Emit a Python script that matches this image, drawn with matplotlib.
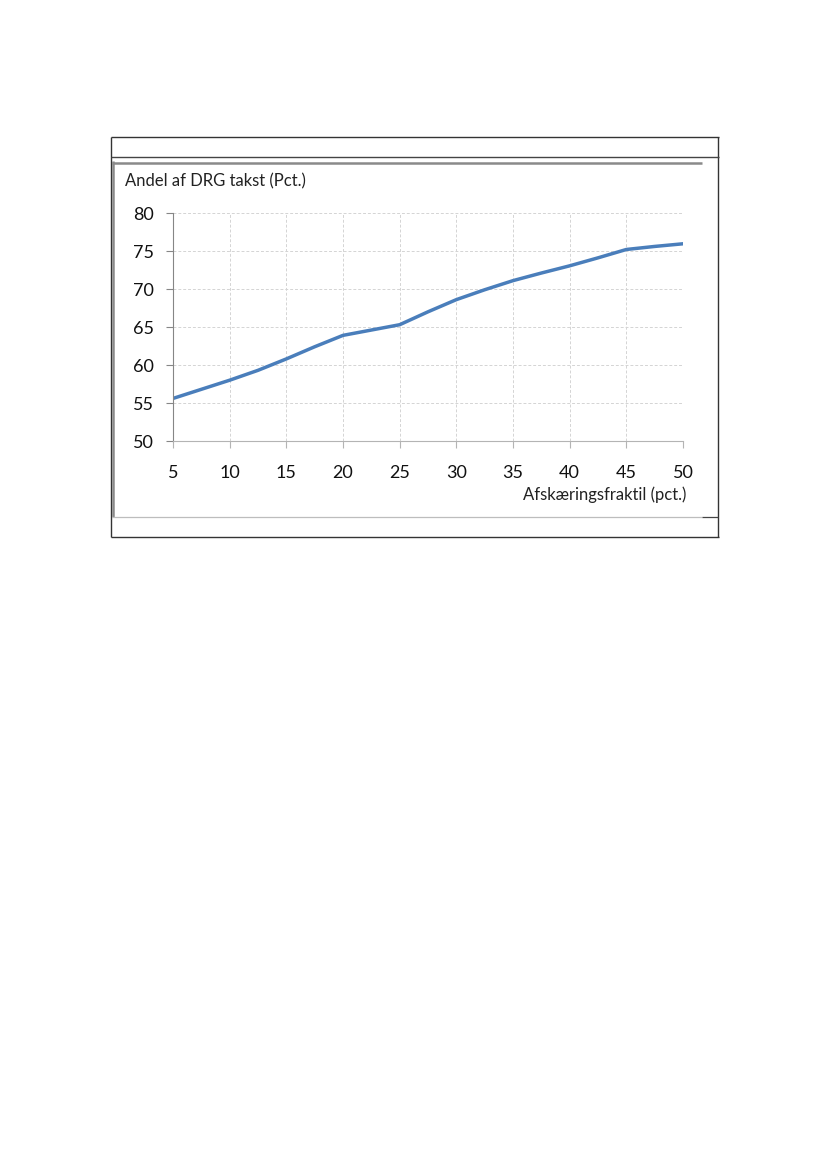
import matplotlib
matplotlib.use('Agg')
import matplotlib.pyplot as plt
from matplotlib.lines import Line2D

# data
fraktil = [5, 7.5, 10, 12.5, 15, 17.5, 20, 22.5, 25, 27.5, 30, 32.5, 35, 37.5, 40, 42.5, 45, 47.5, 50]
andel = [55.6, 56.8, 58.0, 59.3, 60.8, 62.4, 63.9, 64.6, 65.3, 67.0, 68.6, 69.9, 71.1, 72.1, 73.05, 74.1, 75.2, 75.6, 75.95]
xticks = [5, 10, 15, 20, 25, 30, 35, 40, 45, 50]
yticks = [50, 55, 60, 65, 70, 75, 80]

plt.rcParams['font.family'] = ['Lato', 'DejaVu Sans']

W, H = 826, 1169
fig = plt.figure(figsize=(W / 100, H / 100), dpi=100)


def fx(px):
    return px / W


def fy(py):
    return 1 - py / H


def hline(x0, x1, y, color, lw):
    fig.add_artist(Line2D([fx(x0), fx(x1)], [fy(y), fy(y)], color=color, lw=lw,
                          transform=fig.transFigure, solid_capstyle='butt'))


def vline(x, y0, y1, color, lw):
    fig.add_artist(Line2D([fx(x), fx(x)], [fy(y0), fy(y1)], color=color, lw=lw,
                          transform=fig.transFigure, solid_capstyle='butt'))


# outer frame
hline(110.5, 718.5, 137.3, '#333333', 1.0)
hline(110.5, 718.5, 536.7, '#333333', 1.0)
vline(110.7, 137, 537, '#333333', 1.0)
vline(718, 137, 537, '#333333', 1.0)
hline(110.5, 718.5, 157, '#444444', 1.0)
# inner grey frame
hline(112, 702, 163, '#8a8a8a', 1.8)
vline(113.2, 161, 517, '#8a8a8a', 1.8)
hline(112, 702, 517, '#bdbdbd', 0.9)
hline(702, 718, 517, '#444444', 0.9)

ax = fig.add_axes([fx(173), fy(441), fx(683) - fx(173), fy(213) - fy(441)])
ax.plot(fraktil, andel, color='#4a7ebb', lw=2.5, solid_capstyle='round')

ax.set_xlim(5, 50)
ax.set_ylim(50, 80)
ax.set_xticks(xticks)
ax.set_yticks(yticks)
ax.grid(True, color='#d4d4d4', linestyle=(0, (3, 2)), lw=0.7)
ax.set_axisbelow(True)

for s in ['top', 'right']:
    ax.spines[s].set_visible(False)
ax.spines['left'].set_color('#868686')
ax.spines['bottom'].set_color('#b4b4b4')
ax.tick_params(axis='y', colors='#868686', length=5, width=0.8, labelsize=13,
               labelcolor='#111111', pad=9)
ax.tick_params(axis='x', colors='#b4b4b4', length=5, width=0.8, labelsize=13,
               labelcolor='#111111', pad=12)

fig.text(fx(125), fy(181), 'Andel af DRG takst (Pct.)', fontsize=12, color='#222222',
         ha='left', va='center')
fig.text(fx(686), fy(495), 'Afskæringsfraktil (pct.)', fontsize=12, color='#222222',
         ha='right', va='center')

fig.savefig('out.png', dpi=100)
